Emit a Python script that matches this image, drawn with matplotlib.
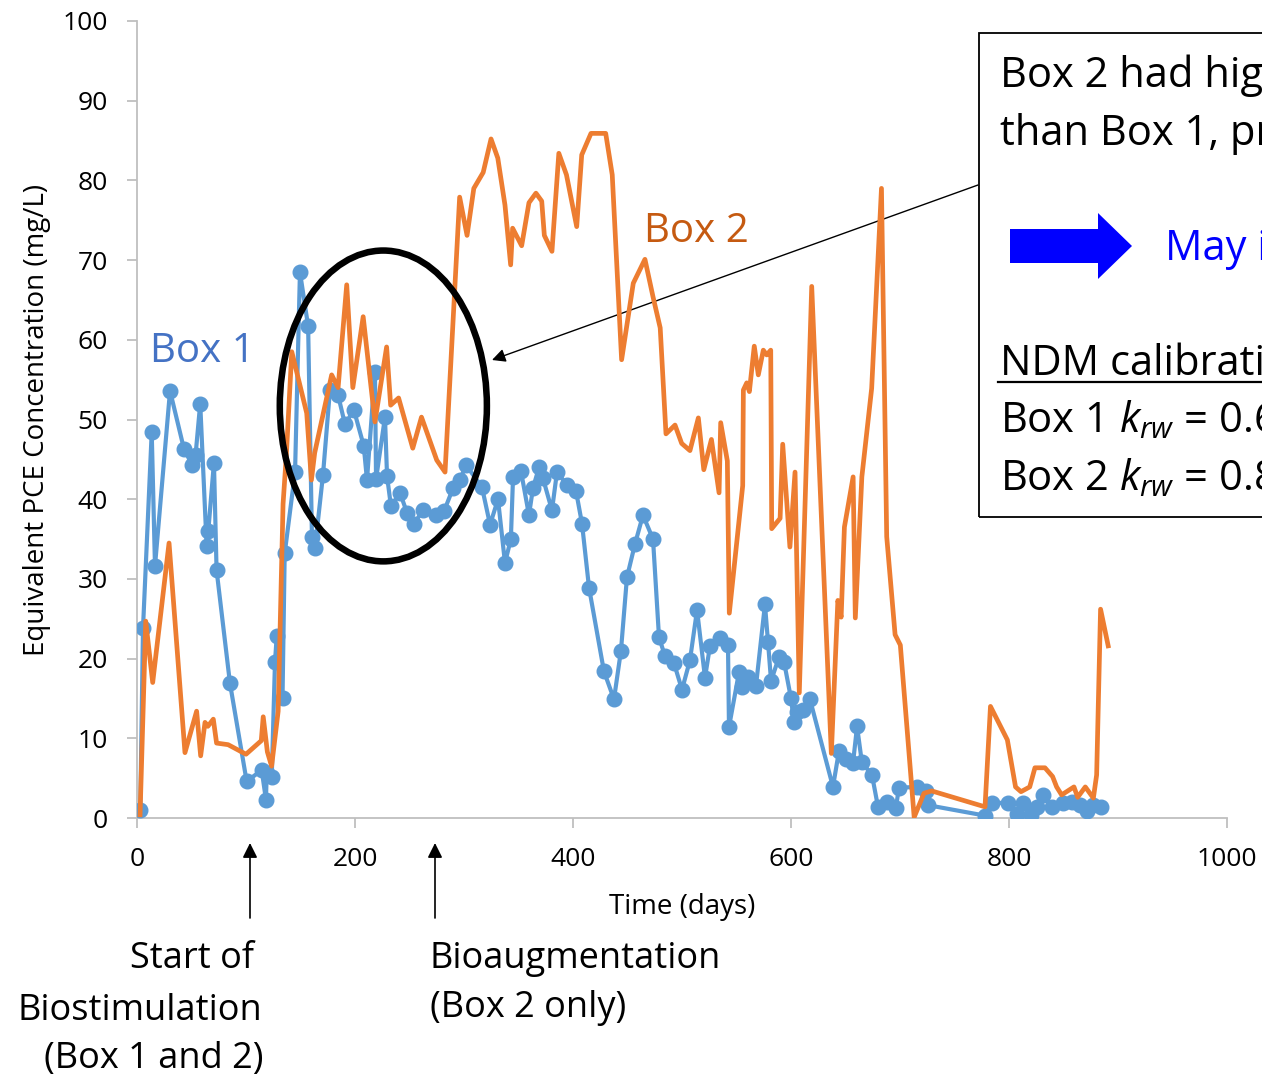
import numpy as np
import matplotlib
matplotlib.use("Agg")
import matplotlib.pyplot as plt
from matplotlib.patches import Ellipse, Rectangle, Polygon
from matplotlib.lines import Line2D

plt.rcParams['font.family'] = ['Open Sans', 'DejaVu Sans']
plt.rcParams['mathtext.fontset'] = 'custom'
plt.rcParams['mathtext.rm'] = 'Open Sans'
plt.rcParams['mathtext.it'] = 'Open Sans:italic'

# Box 1 (blue, markers)
box1_day = [3, 5.5, 13.5, 16.5, 30.3, 43.1, 50.6, 53.7, 58, 63.9, 65.4, 70.6, 73,
            85.3, 100.6, 114.4, 118.3, 119, 123.6, 126.6, 128.2, 133.5, 135.5, 145,
            149.5, 157, 160.5, 163.3, 170.6, 177, 184.4, 190.8, 199, 208, 211, 218.3,
            219.3, 227.5, 229.4, 233, 241.3, 247.7, 254, 262.4, 274.3, 281.7, 290,
            296.3, 301.8, 316.5, 323.9, 331.2, 337.6, 343, 345, 352.3, 359.6, 363.3,
            368.8, 372.5, 380.7, 385.3, 394.5, 402.8, 408.3, 414.7, 428.4, 437.6, 444,
            449.5, 456.9, 464.2, 473.4, 478.9, 484.4, 492.7, 500, 507.3, 513.8, 521.1,
            525.7, 534.9, 542.2, 543.1, 552.3, 555, 560.6, 567.9, 576.1, 578.9, 581.7,
            589, 593.6, 600, 602.8, 605.5, 611, 617.4, 638.5, 644, 650.5, 656.9, 660.6,
            665, 674.3, 679.8, 688, 696.3, 699, 715.6, 724, 726, 778, 784.4, 799,
            807.3, 812.8, 820, 825.7, 831.2, 839.4, 849.5, 857.8, 865, 871.6, 877, 884.4]
box1_val = [1.0, 23.8, 48.4, 31.6, 53.6, 46.3, 44.3, 45.5, 52, 34.1, 36, 44.6, 31.1,
            16.9, 4.6, 6.0, 2.3, 5.6, 5.1, 19.6, 22.8, 15.1, 33.2, 43.4,
            68.5, 61.7, 35.3, 33.9, 43, 53.7, 53.1, 49.4, 51.2, 46.7, 42.4, 56,
            42.5, 50.3, 42.9, 39.1, 40.8, 38.3, 36.9, 38.6, 38, 38.5, 41.4,
            42.4, 44.3, 41.5, 36.8, 40, 32, 35, 42.8, 43.5, 38, 41.4,
            44, 42.6, 38.6, 43.4, 41.8, 41, 36.9, 28.9, 18.4, 14.9, 21,
            30.2, 34.4, 38, 35, 22.7, 20.3, 19.4, 16.1, 19.8, 26.1, 17.6,
            21.6, 22.6, 21.7, 11.4, 18.3, 16.4, 17.7, 16.6, 26.8, 22.1, 17.2,
            20.2, 19.6, 15, 12, 13.3, 13.5, 14.9, 3.9, 8.4, 7.4, 6.9, 11.5,
            7, 5.4, 1.4, 2, 1.3, 3.8, 3.9, 3.4, 1.6, 0.3, 1.9, 1.9,
            0.5, 1.9, 0.4, 1.4, 2.9, 1.4, 1.9, 2, 1.6, 0.9, 1.6, 1.4]

# Box 2 (orange, line only)
box2_day = [2.8, 8, 14.4, 29.4, 44, 54.7, 58.4, 62.4, 65, 70, 73, 83.6, 100, 114, 115.8,
            119.6, 123.5, 129.5, 134, 137, 142, 155.7, 160, 163, 178.6, 184.5, 192.4,
            198, 207.5, 218.3, 229, 232.7, 240, 253, 261, 275, 282.6, 296, 302.8, 309,
            317.6, 324.8, 331, 337.6, 342.8, 344.6, 352.9, 359.6, 366, 371.3, 373.7,
            380.7, 387, 394, 403.4, 408, 416.5, 430, 436, 444.6, 455.3, 466, 473.4, 480,
            485.3, 493.6, 499.7, 507.3, 515, 520, 527, 534, 535.5, 541.6, 543.4, 555.7,
            556.3, 559.4, 561.8, 566.3, 570, 574.6, 577.7, 581.4, 582.3, 590, 592.4, 599,
            603.7, 607.6, 619, 637, 643, 646, 649, 657, 659, 665, 674, 683, 687.8, 695.5,
            700.3, 713, 722, 729, 778, 783, 798.5, 806, 811, 819, 823.8, 833, 840, 843.7,
            848.3, 859.6, 863, 870, 877.4, 880.4, 884, 891]
box2_val = [0.4, 24.7, 17, 34.5, 8.2, 13.4, 7.8, 12, 11.5, 12.4, 9.4, 9.2, 8, 9.7, 12.7,
            8.3, 6.5, 13.4, 39.4, 45.5, 58.5, 50.8, 42.4, 45.8, 55.6, 54, 66.9,
            54, 62.9, 49.7, 59.1, 51.8, 52.7, 46.4, 50.3, 44.9, 43.4, 77.9, 73.1, 79,
            81, 85.2, 82.8, 76.9, 69.4, 74, 71.8, 77.2, 78.4, 77.4, 73.1,
            71.1, 83.4, 80.7, 74.2, 83.2, 85.9, 85.9, 80.7, 57.5, 67.1, 70.1, 65.4, 61.5,
            48.2, 49.3, 47, 46.1, 50.2, 43.7, 47.5, 40.8, 49.6, 44.8, 25.7, 41.7,
            53.7, 54.6, 53.5, 59.2, 55.6, 58.7, 58.1, 58.7, 36.3, 37.6, 46.9, 34,
            43.4, 15.7, 66.7, 8.1, 27.3, 25.2, 36.5, 42.8, 25.1, 42.8, 53.9, 79, 35.3, 23,
            21.7, 0.1, 3.1, 3.4, 1.4, 14, 9.8, 3.9, 3.3, 3.9, 6.3, 6.3, 5.2, 3.9,
            2.9, 3.9, 2.6, 3.9, 2.5, 5.4, 26.2, 21.6]

xticks = [0, 200, 400, 600, 800, 1000]
yticks = list(range(0, 101, 10))

W, H = 1262, 1077


def fp(x, y):
    # pixel position (from top-left) -> figure fraction
    return (x / W, 1 - y / H)


fig = plt.figure(figsize=(W / 100, H / 100), dpi=100)
ax = fig.add_axes([137 / W, 1 - 818 / H, (1227 - 137) / W, (818 - 21) / H])

ax.plot(box1_day, box1_val, color='#5B9BD5', lw=3.0, marker='o', ms=10.5,
        solid_joinstyle='round', zorder=3)
ax.plot(box2_day, box2_val, color='#ED7D31', lw=3.4, solid_joinstyle='round', zorder=4)

ax.set_xlim(0, 1000)
ax.set_ylim(0, 100)
ax.set_xticks(xticks)
ax.set_yticks(yticks)
gray = '#BFBFBF'
for s in ['top', 'right']:
    ax.spines[s].set_visible(False)
for s in ['left', 'bottom']:
    ax.spines[s].set_color(gray)
    ax.spines[s].set_linewidth(1.3)
ax.tick_params(axis='both', direction='out', length=7, width=1.3, color=gray,
               labelsize=19, labelcolor='black')
ax.tick_params(axis='x', pad=14)
ax.tick_params(axis='y', pad=14)

ax.set_xlabel('Time (days)', fontsize=20)
ax.xaxis.set_label_coords(0.5, (818 - 893) / (818 - 21), transform=ax.transAxes)
ax.set_ylabel('Equivalent PCE Concentration (mg/L)', fontsize=20)
ax.yaxis.set_label_coords((51 - 137) / (1227 - 137), 0.5, transform=ax.transAxes)

ax.text(12, 58.5, 'Box 1', color='#4472C4', fontsize=29, va='center', ha='left')
ax.text(465, 73.6, 'Box 2', color='#C55A11', fontsize=29, va='center', ha='left')

ell = Ellipse((226, 51.7), width=190, height=39, fill=False, edgecolor='black',
              lw=4.7, zorder=5)
ax.add_patch(ell)

# text box on the right (cut off by the figure edge, as in the slide)
fig.add_artist(Rectangle(fp(979, 517), 400 / W, (517 - 33) / H, fill=False,
                         edgecolor='black', lw=1.3, transform=fig.transFigure))
fs = 30
fig.text(*fp(1000, 87), 'Box 2 had higher concentrations', fontsize=fs, va='baseline')
fig.text(*fp(1000, 145), 'than Box 1, probably due to', fontsize=fs, va='baseline')
fig.text(*fp(1165, 260), 'May indicate', fontsize=fs, va='baseline', color='#0000FF')
fig.text(*fp(1000, 375), 'NDM calibration:', fontsize=fs, va='baseline')
fig.add_artist(Line2D([998 / W, 1.0], [1 - 382 / H, 1 - 382 / H], color='black',
                      lw=1.6, transform=fig.transFigure))
fig.text(*fp(1000, 432), r'Box 1 $k_{rw}$ = 0.6', fontsize=fs, va='baseline')
fig.text(*fp(1000, 490), r'Box 2 $k_{rw}$ = 0.8', fontsize=fs, va='baseline')

# blue block arrow
arrow_px = [(1010, 229), (1098, 229), (1098, 213), (1132, 246),
            (1098, 279), (1098, 263), (1010, 263)]
fig.add_artist(Polygon([fp(x, y) for x, y in arrow_px], closed=True,
                       facecolor='#0000FF', edgecolor='none', transform=fig.transFigure))

# pointer from text box to ellipse
ax.annotate('', xy=fp(492, 360), xycoords='figure fraction', xytext=fp(978, 185),
            textcoords='figure fraction',
            arrowprops=dict(arrowstyle='-|>', color='black', lw=1.0, mutation_scale=20,
                            shrinkA=0, shrinkB=0))

# event arrows under the axis
for xp in [250, 435]:
    ax.annotate('', xy=fp(xp, 843), xycoords='figure fraction', xytext=fp(xp, 918),
                textcoords='figure fraction',
                arrowprops=dict(arrowstyle='-|>', color='black', lw=1.2,
                                mutation_scale=22, shrinkA=0, shrinkB=0))

bs = 26
fig.text(*fp(254, 968), 'Start of', fontsize=bs, va='baseline', ha='right')
fig.text(*fp(262, 1020), 'Biostimulation', fontsize=bs, va='baseline', ha='right')
fig.text(*fp(263, 1068), '(Box 1 and 2)', fontsize=bs, va='baseline', ha='right')
fig.text(*fp(430, 968), 'Bioaugmentation', fontsize=bs, va='baseline', ha='left')
fig.text(*fp(430, 1017), '(Box 2 only)', fontsize=bs, va='baseline', ha='left')

fig.savefig('out.png', dpi=100)
